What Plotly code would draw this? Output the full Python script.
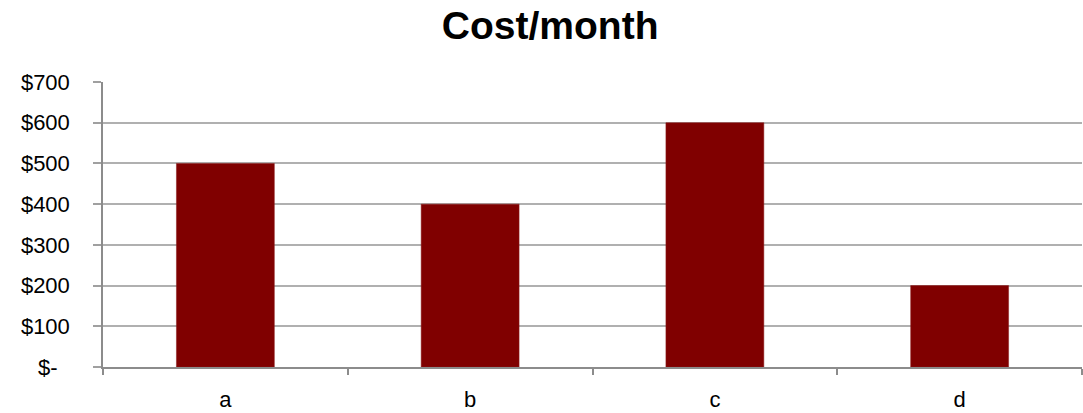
import plotly.graph_objects as go

categories = ["a", "b", "c", "d"]
costs = [500, 400, 600, 200]
y_tickvals = [0, 100, 200, 300, 400, 500, 600, 700]
y_ticktext = ["$-\u00a0\u00a0", "$100", "$200", "$300", "$400", "$500", "$600", "$700"]

fig = go.Figure()
fig.add_trace(go.Bar(
    x=categories, y=costs,
    marker=dict(color="#800000", line=dict(color="#8a1a1a", width=0.5)),
    width=0.4,
))

fig.update_layout(
    width=1083, height=413,
    margin=dict(l=103, r=1, t=82, b=46),
    paper_bgcolor="white", plot_bgcolor="white",
    font=dict(family="Liberation Sans, Arial, sans-serif", color="black", size=20),
    title=dict(text="<b>Cost/month</b>", x=0.508, xanchor="center", y=0.938, yanchor="middle",
               font=dict(size=39, family="Liberation Sans, Arial, sans-serif", color="black")),
    showlegend=False,
    bargap=0.6,
)
fig.update_xaxes(
    type="category", range=[-0.5, 3.5],
    showline=True, linecolor="#8c8c8c", linewidth=1.5,
    ticks="outside", tickson="boundaries", ticklen=6, tickcolor="#8c8c8c", tickwidth=1.5,
    showgrid=False, tickfont=dict(size=22), ticklabelstandoff=12,
)
fig.update_yaxes(
    range=[0, 700], tickvals=y_tickvals, ticktext=y_ticktext,
    showline=True, linecolor="#8c8c8c", linewidth=1.5,
    ticks="outside", ticklen=8, tickcolor="#a0a0a0", tickwidth=1.5,
    showgrid=True, gridcolor="#b0b0b0", gridwidth=1.5,
    zeroline=False, tickfont=dict(size=22), ticklabelstandoff=19,
)

fig.write_html("out.html")
